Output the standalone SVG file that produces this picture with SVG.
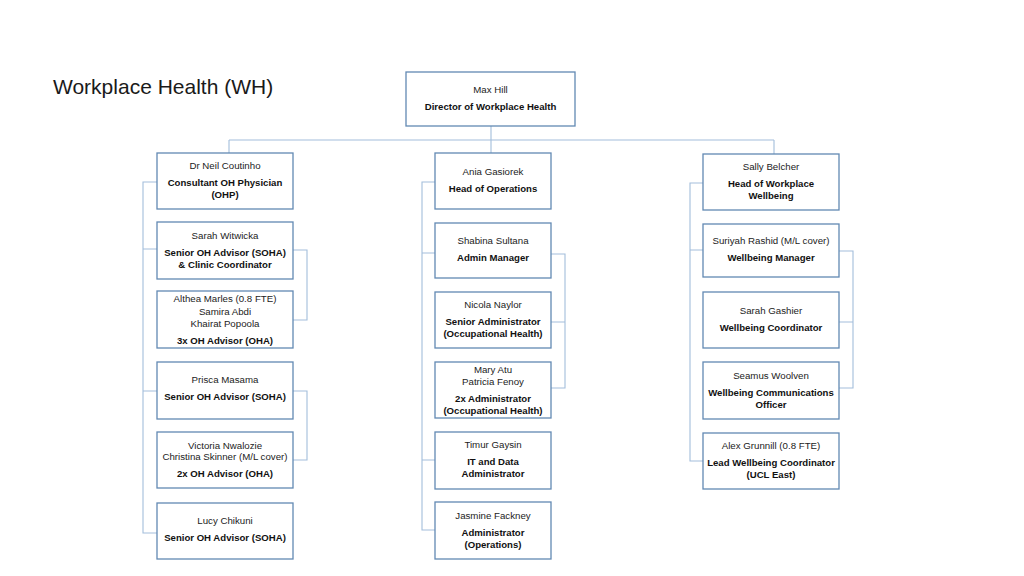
<svg xmlns="http://www.w3.org/2000/svg" width="1024" height="576" viewBox="0 0 1024 576">
<style>
.box{fill:#fff;stroke:#6289b3;stroke-width:1.3}
.con{fill:none;stroke:#a3bedb;stroke-width:1.1}
text{font-family:"Liberation Sans",Arial,sans-serif;font-size:9.7px;fill:#222;text-anchor:middle}
.b{font-weight:bold;font-size:9.6px;fill:#111}
.title{font-size:21px;text-anchor:start;fill:#1a1a1a}
</style>
<rect width="1024" height="576" fill="#fff"/>
<text class="title" x="53" y="94">Workplace Health (WH)</text>
<g id="connectors">
<path class="con" d="M491 126V140M229 140H774M229 140V153M491 140V153M774 140V154"/>
<path class="con" d="M157 182H143V533H157M143 249H157M143 391H157"/>
<path class="con" d="M293 250H307V320H293M293 391H307V460H293"/>
<path class="con" d="M435 182H422V530H435M422 253H435M422 460H435"/>
<path class="con" d="M551 254H565V388H551M551 322H565"/>
<path class="con" d="M703 183H690V461H703M690 250H703"/>
<path class="con" d="M839 251H853V388H839M839 322H853"/>
</g>
<g id="n-max"><rect class="box" x="406" y="72" width="169" height="54"/><text x="490.5" y="93">Max Hill</text><text class="b" x="490.5" y="110">Director of Workplace Health</text></g>
<g id="n-neil"><rect class="box" x="157" y="153" width="136" height="56"/><text x="225" y="169">Dr Neil Coutinho</text><text class="b" x="225" y="186">Consultant OH Physician</text><text class="b" x="225" y="198">(OHP)</text></g>
<g id="n-sarahw"><rect class="box" x="157" y="222" width="136" height="57"/><text x="225" y="239">Sarah Witwicka</text><text class="b" x="225" y="256">Senior OH Advisor (SOHA)</text><text class="b" x="225" y="268">&amp; Clinic Coordinator</text></g>
<g id="n-althea"><rect class="box" x="157" y="291" width="136" height="57"/><text x="225" y="302">Althea Marles (0.8 FTE)</text><text x="225" y="315">Samira Abdi</text><text x="225" y="327">Khairat Popoola</text><text class="b" x="225" y="344">3x OH Advisor (OHA)</text></g>
<g id="n-prisca"><rect class="box" x="157" y="362" width="136" height="57"/><text x="225" y="383">Prisca Masama</text><text class="b" x="225" y="400">Senior OH Advisor (SOHA)</text></g>
<g id="n-victoria"><rect class="box" x="157" y="432" width="136" height="56"/><text x="225" y="449">Victoria Nwalozie</text><text x="225" y="460">Christina Skinner (M/L cover)</text><text class="b" x="225" y="477">2x OH Advisor (OHA)</text></g>
<g id="n-lucy"><rect class="box" x="157" y="503" width="136" height="56"/><text x="225" y="524">Lucy Chikuni</text><text class="b" x="225" y="541">Senior OH Advisor (SOHA)</text></g>
<g id="n-ania"><rect class="box" x="435" y="153" width="116" height="56"/><text x="493" y="175">Ania Gasiorek</text><text class="b" x="493" y="192">Head of Operations</text></g>
<g id="n-shabina"><rect class="box" x="435" y="223" width="116" height="55"/><text x="493" y="244">Shabina Sultana</text><text class="b" x="493" y="261">Admin Manager</text></g>
<g id="n-nicola"><rect class="box" x="435" y="292" width="116" height="56"/><text x="493" y="308">Nicola Naylor</text><text class="b" x="493" y="325">Senior Administrator</text><text class="b" x="493" y="337">(Occupational Health)</text></g>
<g id="n-mary"><rect class="box" x="435" y="362" width="116" height="56"/><text x="493" y="373">Mary Atu</text><text x="493" y="385">Patricia Fenoy</text><text class="b" x="493" y="402">2x Administrator</text><text class="b" x="493" y="414">(Occupational Health)</text></g>
<g id="n-timur"><rect class="box" x="435" y="432" width="116" height="57"/><text x="493" y="448">Timur Gaysin</text><text class="b" x="493" y="465">IT and Data</text><text class="b" x="493" y="477">Administrator</text></g>
<g id="n-jasmine"><rect class="box" x="435" y="502" width="116" height="57"/><text x="493" y="519">Jasmine Fackney</text><text class="b" x="493" y="536">Administrator</text><text class="b" x="493" y="548">(Operations)</text></g>
<g id="n-sally"><rect class="box" x="703" y="154" width="136" height="56"/><text x="771" y="170">Sally Belcher</text><text class="b" x="771" y="187">Head of Workplace</text><text class="b" x="771" y="199">Wellbeing</text></g>
<g id="n-suriyah"><rect class="box" x="703" y="224" width="136" height="53"/><text x="771" y="244">Suriyah Rashid (M/L cover)</text><text class="b" x="771" y="261">Wellbeing Manager</text></g>
<g id="n-gashier"><rect class="box" x="703" y="292" width="136" height="56"/><text x="771" y="314">Sarah Gashier</text><text class="b" x="771" y="331">Wellbeing Coordinator</text></g>
<g id="n-seamus"><rect class="box" x="703" y="362" width="136" height="57"/><text x="771" y="379">Seamus Woolven</text><text class="b" x="771" y="396">Wellbeing Communications</text><text class="b" x="771" y="408">Officer</text></g>
<g id="n-alex"><rect class="box" x="703" y="433" width="136" height="56"/><text x="771" y="449">Alex Grunnill (0.8 FTE)</text><text class="b" x="771" y="466">Lead Wellbeing Coordinator</text><text class="b" x="771" y="478">(UCL East)</text></g>
</svg>
